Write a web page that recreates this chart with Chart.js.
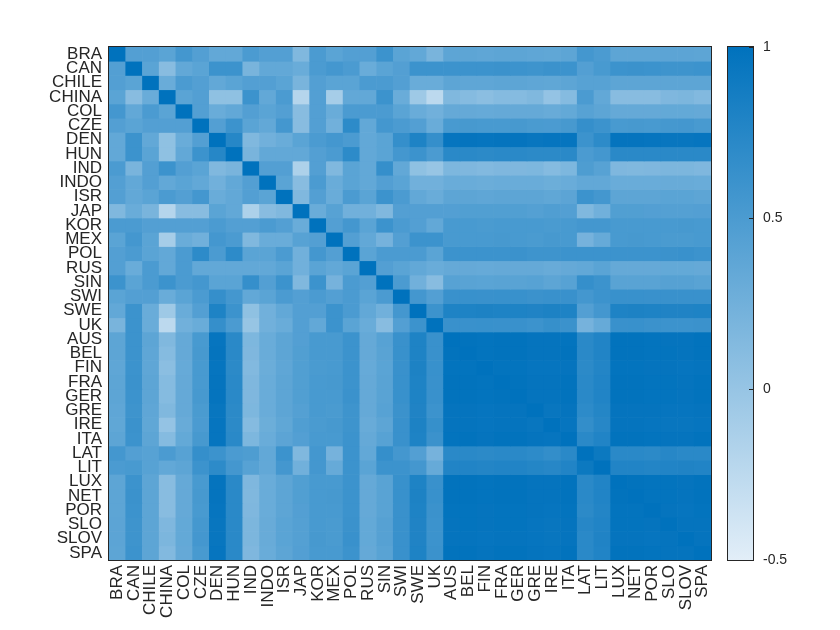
<!DOCTYPE html>
<html lang="en">
  <head>
    <meta charset="UTF-8" />
    <title>Correlation matrix</title>
    <script src="https://cdn.jsdelivr.net/npm/chart.js"></script>
    <style>
      html, body { margin: 0; padding: 0; background: #fff; }
      #wrap { width: 840px; height: 630px; }
    </style>
  </head>
  <body>
    <div id="wrap"><canvas id="corrChart" width="840" height="630"></canvas></div>
    <script>
      const countries = ["BRA", "CAN", "CHILE", "CHINA", "COL", "CZE", "DEN", "HUN", "IND", "INDO",
        "ISR", "JAP", "KOR", "MEX", "POL", "RUS", "SIN", "SWI", "SWE", "UK",
        "AUS", "BEL", "FIN", "FRA", "GER", "GRE", "IRE", "ITA", "LAT", "LIT",
        "LUX", "NET", "POR", "SLO", "SLOV", "SPA"];

      // lower triangle of the correlation matrix, row i holds columns 0..i
      const corrLower = [
        [1],
        [0.45, 1],
        [0.45, 0.4, 1],
        [0.4, 0.1, 0.3, 1],
        [0.55, 0.35, 0.5, 0.4, 1],
        [0.45, 0.4, 0.45, 0.45, 0.45, 1],
        [0.35, 0.6, 0.35, 0.05, 0.3, 0.45, 1],
        [0.35, 0.6, 0.4, 0.05, 0.35, 0.6, 0.75, 1],
        [0.5, 0.2, 0.45, 0.6, 0.45, 0.4, 0.15, 0.2, 1],
        [0.45, 0.35, 0.45, 0.35, 0.4, 0.35, 0.25, 0.35, 0.45, 1],
        [0.45, 0.35, 0.4, 0.5, 0.45, 0.55, 0.3, 0.35, 0.45, 0.4, 1],
        [0.15, 0.3, 0.2, -0.2, 0.1, 0.1, 0.4, 0.35, -0.15, 0.1, 0.15, 1],
        [0.5, 0.5, 0.45, 0.45, 0.45, 0.45, 0.5, 0.45, 0.45, 0.5, 0.45, 0.3, 1],
        [0.4, 0.55, 0.4, -0.1, 0.3, 0.25, 0.55, 0.5, 0.15, 0.3, 0.3, 0.42, 0.45, 1],
        [0.45, 0.5, 0.4, 0.35, 0.5, 0.7, 0.5, 0.7, 0.4, 0.4, 0.5, 0.25, 0.55, 0.45, 1],
        [0.45, 0.3, 0.5, 0.35, 0.5, 0.35, 0.35, 0.35, 0.35, 0.35, 0.4, 0.25, 0.4, 0.35, 0.4, 1],
        [0.6, 0.4, 0.5, 0.6, 0.5, 0.55, 0.4, 0.4, 0.65, 0.45, 0.6, 0.15, 0.6, 0.22, 0.5, 0.45, 1],
        [0.4, 0.45, 0.45, 0.3, 0.4, 0.5, 0.65, 0.55, 0.35, 0.4, 0.5, 0.45, 0.5, 0.45, 0.5, 0.4, 0.5, 1],
        [0.35, 0.6, 0.3, -0.05, 0.3, 0.45, 0.8, 0.6, 0.05, 0.25, 0.35, 0.45, 0.45, 0.6, 0.5, 0.35, 0.25, 0.55, 1],
        [0.2, 0.6, 0.3, -0.25, 0.25, 0.3, 0.65, 0.5, 0.0, 0.25, 0.3, 0.45, 0.35, 0.6, 0.4, 0.3, 0.1, 0.45, 0.6, 1],
        [0.38, 0.6, 0.38, 0.15, 0.33, 0.52, 0.96, 0.72, 0.17, 0.3, 0.38, 0.45, 0.52, 0.52, 0.6, 0.33, 0.42, 0.62, 0.8, 0.62, 1],
        [0.38, 0.6, 0.37, 0.12, 0.33, 0.53, 0.97, 0.72, 0.16, 0.3, 0.38, 0.46, 0.52, 0.52, 0.6, 0.33, 0.41, 0.63, 0.8, 0.62, 0.99, 1],
        [0.37, 0.6, 0.37, 0.08, 0.32, 0.52, 0.96, 0.71, 0.14, 0.29, 0.37, 0.46, 0.51, 0.52, 0.6, 0.32, 0.4, 0.62, 0.81, 0.63, 0.98, 0.98, 1],
        [0.38, 0.61, 0.38, 0.12, 0.33, 0.52, 0.97, 0.72, 0.16, 0.3, 0.38, 0.46, 0.52, 0.53, 0.6, 0.33, 0.41, 0.63, 0.8, 0.62, 0.99, 0.99, 0.98, 1],
        [0.38, 0.6, 0.38, 0.12, 0.33, 0.53, 0.97, 0.72, 0.16, 0.3, 0.38, 0.46, 0.52, 0.52, 0.61, 0.33, 0.41, 0.63, 0.8, 0.62, 0.99, 0.99, 0.98, 0.99, 1],
        [0.37, 0.59, 0.37, 0.15, 0.33, 0.51, 0.95, 0.71, 0.17, 0.3, 0.38, 0.44, 0.52, 0.51, 0.59, 0.33, 0.42, 0.61, 0.79, 0.6, 0.97, 0.97, 0.96, 0.97, 0.97, 1],
        [0.36, 0.61, 0.36, 0.02, 0.31, 0.5, 0.96, 0.71, 0.12, 0.28, 0.36, 0.47, 0.51, 0.53, 0.59, 0.31, 0.38, 0.62, 0.81, 0.64, 0.97, 0.97, 0.96, 0.97, 0.97, 0.95, 1],
        [0.38, 0.6, 0.38, 0.12, 0.34, 0.53, 0.96, 0.72, 0.17, 0.3, 0.39, 0.45, 0.52, 0.52, 0.6, 0.33, 0.42, 0.62, 0.8, 0.61, 0.98, 0.99, 0.97, 0.99, 0.99, 0.97, 0.96, 1],
        [0.55, 0.45, 0.42, 0.5, 0.42, 0.65, 0.6, 0.5, 0.48, 0.35, 0.6, 0.15, 0.55, 0.22, 0.6, 0.35, 0.65, 0.55, 0.45, 0.22, 0.72, 0.72, 0.71, 0.72, 0.72, 0.7, 0.66, 0.72, 1],
        [0.5, 0.52, 0.42, 0.35, 0.38, 0.6, 0.7, 0.55, 0.42, 0.35, 0.55, 0.25, 0.55, 0.32, 0.6, 0.4, 0.6, 0.6, 0.55, 0.32, 0.78, 0.78, 0.77, 0.78, 0.78, 0.76, 0.74, 0.78, 0.92, 1],
        [0.38, 0.6, 0.38, 0.1, 0.33, 0.52, 0.97, 0.72, 0.16, 0.3, 0.38, 0.46, 0.52, 0.52, 0.6, 0.33, 0.41, 0.63, 0.8, 0.62, 0.99, 0.99, 0.98, 0.99, 0.99, 0.97, 0.97, 0.99, 0.72, 0.78, 1],
        [0.38, 0.61, 0.38, 0.1, 0.33, 0.53, 0.97, 0.72, 0.15, 0.3, 0.38, 0.46, 0.52, 0.53, 0.6, 0.33, 0.41, 0.63, 0.81, 0.63, 0.99, 0.99, 0.98, 0.99, 0.99, 0.97, 0.97, 0.99, 0.72, 0.78, 0.99, 1],
        [0.38, 0.6, 0.38, 0.1, 0.33, 0.52, 0.96, 0.72, 0.16, 0.3, 0.38, 0.45, 0.52, 0.52, 0.6, 0.33, 0.41, 0.62, 0.8, 0.61, 0.98, 0.98, 0.97, 0.98, 0.98, 0.97, 0.96, 0.98, 0.71, 0.77, 0.98, 0.98, 1],
        [0.39, 0.59, 0.38, 0.16, 0.34, 0.54, 0.95, 0.72, 0.18, 0.31, 0.4, 0.44, 0.52, 0.51, 0.61, 0.34, 0.43, 0.62, 0.79, 0.6, 0.97, 0.98, 0.97, 0.98, 0.98, 0.96, 0.95, 0.97, 0.74, 0.78, 0.98, 0.98, 0.97, 1],
        [0.39, 0.59, 0.38, 0.18, 0.34, 0.55, 0.95, 0.72, 0.18, 0.31, 0.4, 0.44, 0.53, 0.51, 0.62, 0.34, 0.43, 0.62, 0.79, 0.6, 0.97, 0.97, 0.96, 0.97, 0.97, 0.96, 0.95, 0.97, 0.72, 0.79, 0.97, 0.97, 0.96, 0.97, 1],
        [0.38, 0.6, 0.38, 0.14, 0.33, 0.52, 0.96, 0.72, 0.16, 0.3, 0.38, 0.45, 0.52, 0.52, 0.6, 0.33, 0.41, 0.62, 0.8, 0.61, 0.99, 0.99, 0.97, 0.99, 0.99, 0.97, 0.96, 0.99, 0.72, 0.78, 0.99, 0.99, 0.98, 0.97, 0.97, 1]
      ];

      const colorbarTicks = [-0.5, 0, 0.5, 1];
      const cMin = -0.5, cMax = 1;
      const cLow = [226, 238, 248];
      const cHigh = [0, 114, 189];
      const textColor = "#262626";
      const fontFamily = "'Liberation Sans', Arial, sans-serif";

      function corr(i, j) {
        return i >= j ? corrLower[i][j] : corrLower[j][i];
      }

      function colorFor(v) {
        const t = Math.max(0, Math.min(1, (v - cMin) / (cMax - cMin)));
        const c = cLow.map((lo, k) => Math.round(lo + (cHigh[k] - lo) * t));
        return `rgb(${c[0]},${c[1]},${c[2]})`;
      }

      // one floating-bar dataset per row of the matrix
      const datasets = countries.map((rowName, i) => ({
        label: rowName,
        data: countries.map(() => [i, i + 1]),
        backgroundColor: countries.map((colName, j) => colorFor(corr(i, j))),
        borderWidth: 0,
        grouped: false,
        barPercentage: 1,
        categoryPercentage: 1,
        yAxisID: "y",
      }));

      // axes box + colorbar
      const framePlugin = {
        id: "frame",
        afterDraw(chart) {
          const { ctx, chartArea: a } = chart;
          const cb = chart.scales.cb;
          ctx.save();
          ctx.strokeStyle = textColor;
          ctx.lineWidth = 1;
          ctx.strokeRect(a.left - 0.5, a.top - 0.5, a.width + 1, a.height + 1);

          const x0 = a.right + 17;
          const w = 25;
          const top = cb.getPixelForValue(cMax);
          const bottom = cb.getPixelForValue(cMin);
          const grad = ctx.createLinearGradient(0, bottom, 0, top);
          grad.addColorStop(0, colorFor(cMin));
          grad.addColorStop(1, colorFor(cMax));
          ctx.fillStyle = grad;
          ctx.fillRect(x0, top, w, bottom - top);
          ctx.strokeRect(x0 - 0.5, top - 0.5, w + 1, bottom - top + 1);
          colorbarTicks.forEach((v) => {
            const y = Math.round(cb.getPixelForValue(v)) + 0.5;
            ctx.beginPath();
            ctx.moveTo(x0 + w - 4, y);
            ctx.lineTo(x0 + w, y);
            ctx.stroke();
          });
          ctx.restore();
        },
      };

      new Chart(document.getElementById("corrChart"), {
        type: "bar",
        data: { labels: countries, datasets },
        options: {
          responsive: false,
          animation: false,
          layout: { padding: { top: 47, left: 0, right: 0, bottom: 0 } },
          plugins: { legend: { display: false }, tooltip: { enabled: false } },
          scales: {
            x: {
              type: "category",
              offset: true,
              grid: { display: false, drawTicks: false },
              border: { display: false },
              ticks: {
                autoSkip: false,
                minRotation: 90,
                maxRotation: 90,
                padding: 5,
                color: textColor,
                font: { family: fontFamily, size: 17 },
              },
              afterFit(scale) { scale.height = 70; },
            },
            y: {
              type: "linear",
              min: 0,
              max: countries.length,
              reverse: true,
              grid: { display: false, drawTicks: false },
              border: { display: false },
              afterBuildTicks(scale) {
                scale.ticks = countries.map((c, i) => ({ value: i + 0.5 }));
              },
              ticks: {
                autoSkip: false,
                padding: 7,
                color: textColor,
                font: { family: fontFamily, size: 17 },
                callback: (value, index) => countries[index],
              },
              afterFit(scale) { scale.width = 109; },
            },
            cb: {
              type: "linear",
              axis: "y",
              position: "right",
              min: cMin,
              max: cMax,
              // invisible tick length pushes the labels past the colorbar
              grid: {
                display: true,
                drawOnChartArea: false,
                drawTicks: true,
                tickLength: 44,
                color: "rgba(0,0,0,0)",
              },
              border: { display: false },
              afterBuildTicks(scale) {
                scale.ticks = colorbarTicks.map((v) => ({ value: v }));
              },
              ticks: {
                autoSkip: false,
                padding: 8,
                color: textColor,
                font: { family: fontFamily, size: 14 },
                callback: (value) => String(value),
              },
              afterFit(scale) { scale.width = 129; },
            },
          },
        },
        plugins: [framePlugin],
      });
    </script>
  </body>
</html>
